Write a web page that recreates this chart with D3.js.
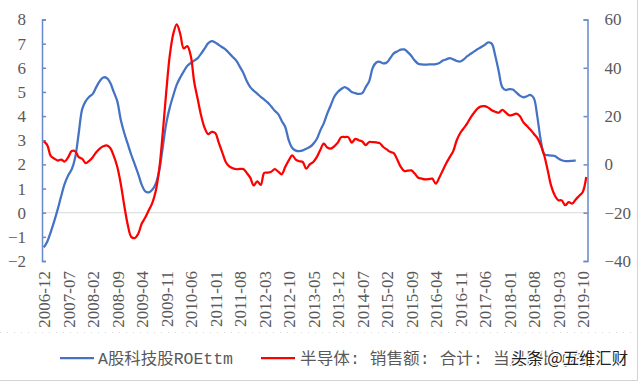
<!DOCTYPE html>
<html><head><meta charset="utf-8">
<script src="https://cdn.jsdelivr.net/npm/d3@7/dist/d3.min.js"></script>
<style>
html,body{margin:0;padding:0;background:#fff;}
svg{display:block;}
</style></head>
<body>
<svg id="chart" width="640" height="382"></svg>
<script>
// ---- data ----
const startMonth = "2006-12";
const tickLabels = ["2006-12","2007-07","2008-02","2008-09","2009-04","2009-11","2010-06","2011-01","2011-08","2012-03","2012-10","2013-05","2013-12","2014-07","2015-02","2015-09","2016-04","2016-11","2017-06","2018-01","2018-08","2019-03","2019-10"];
const leftTicks = [-2,-1,0,1,2,3,4,5,6,7,8];
const rightTicks = [-40,-20,0,20,40,60];
const seriesNames = ["A股科技股ROEttm","半导体: 销售额: 合计: 当月同比(右)"];
// A股科技股ROEttm (left axis), monthly from 2006-12
const roe = [-1.44,-1.2,-0.8,-0.35,0.15,0.7,1.2,1.55,1.8,2.3,3.3,4.3,4.62,4.8,4.92,5.2,5.45,5.6,5.58,5.38,
5.0,4.62,3.85,3.3,2.85,2.4,2.0,1.6,1.15,0.88,0.84,0.95,1.2,1.75,2.7,3.7,4.35,4.85,5.3,5.6,
5.85,6.08,6.2,6.3,6.4,6.6,6.8,7.02,7.1,7.05,6.95,6.85,6.75,6.6,6.45,6.3,6.05,5.8,5.45,5.2,
5.05,4.93,4.8,4.68,4.56,4.4,4.22,4.08,3.8,3.55,3.0,2.68,2.57,2.55,2.58,2.65,2.72,2.85,3.05,3.4,
3.7,4.1,4.45,4.8,5.0,5.12,5.2,5.12,5.0,4.95,4.92,4.95,5.2,5.45,6.0,6.22,6.25,6.18,6.22,6.4,
6.6,6.68,6.75,6.76,6.65,6.5,6.3,6.17,6.14,6.13,6.14,6.14,6.15,6.2,6.3,6.35,6.4,6.35,6.28,6.26,
6.35,6.48,6.58,6.68,6.78,6.86,6.95,7.05,7.0,6.5,5.85,5.2,5.08,5.12,5.1,4.98,4.85,4.78,4.82,4.88,
4.75,4.0,3.0,2.42,2.38,2.36,2.35,2.25,2.17,2.14,2.14,2.15,2.16];
// 半导体销售额当月同比 (right axis, %), monthly from 2006-12
const semi = [9.5,8.0,3.5,2.4,1.6,2.0,1.2,3.0,5.5,5.4,3.0,2.3,0.5,1.5,3.0,5.0,6.5,7.5,7.9,6.8,
3.5,-1.0,-8,-17,-25,-30,-30.5,-28.7,-24.5,-22,-19,-16,-11,-2,13,30,45,54,58,54,
48,49,45,34,27,20,15,12.5,13.5,13,9,5,1,-0.8,-1.6,-2.0,-1.9,-1.9,-3.5,-5.5,
-8.7,-7.0,-8.5,-3.5,-3.4,-3.0,-2.0,-3.0,-4.1,-1.0,1.7,3.7,2.0,1.3,1.0,-1.8,0.0,1.0,3.0,6.0,
8.6,7.0,6.5,7.5,9.0,11.3,11.3,11.3,9.0,10.6,10.0,9.5,8.0,9.3,9.2,9.1,8.8,7.2,6.2,5.2,
4.7,2.0,-1.0,-2.7,-2.6,-2.5,-3.8,-5.5,-5.9,-6.2,-6.1,-5.9,-8.0,-5.5,-2.5,0.5,3.0,5.5,10,13,
15,17,19.5,21.5,23.2,24,24.1,23.5,22.4,21.8,21.4,22.6,21.5,20.3,20.5,21.0,20.0,17.5,16.0,14.5,
12.7,11.0,8.0,3.7,-2.5,-9,-12.8,-14.8,-14.9,-16.9,-15.6,-16.2,-14.5,-13.0,-11.4,-5.2];

// month categories
const months = [];
{
  let [y, m] = startMonth.split("-").map(Number);
  for (let i = 0; i < semi.length; i++) {
    months.push(y + "-" + String(m).padStart(2, "0"));
    m++; if (m > 12) { m = 1; y++; }
  }
}

// ---- layout ----
const svg = d3.select("#chart");
const plotL = 42, plotR = 587.5, plotT = 19.5, plotB = 261;
const blue = "#4472C4", red = "#FF0000", axisCol = "#6688CC", textCol = "#595959";

const x = d3.scalePoint().domain(months).range([43.75, 43.75 + 3.5 * (months.length - 1)]);
const yL = d3.scaleLinear().domain([-2, 8]).range([plotB, plotT]);
const yR = d3.scaleLinear().domain([-40, 60]).range([plotB, plotT]);

// border lines of image
svg.append("line").attr("x1", 637.5).attr("x2", 637.5).attr("y1", 0).attr("y2", 381)
  .attr("stroke", "#d4d4d4").attr("stroke-width", 1);
svg.append("line").attr("x1", 0).attr("x2", 638).attr("y1", 380.5).attr("y2", 380.5)
  .attr("stroke", "#d4d4d4").attr("stroke-width", 1);
svg.append("line").attr("x1", 0).attr("x2", 638).attr("y1", 332.5).attr("y2", 332.5)
  .attr("stroke", "#d8d8d8").attr("stroke-width", 1).attr("stroke-dasharray", "1,6");

// zero line
svg.append("line").attr("x1", plotL).attr("x2", plotR)
  .attr("y1", yL(0)).attr("y2", yL(0))
  .attr("stroke", "#d9d9d9").attr("stroke-width", 1);

// left axis
const gL = svg.append("g").attr("transform", `translate(${plotL},0)`)
  .call(d3.axisLeft(yL).tickValues(leftTicks).tickFormat(d3.format("d"))
    .tickSizeInner(-4).tickSizeOuter(-4).tickPadding(16));
// right axis
const gR = svg.append("g").attr("transform", `translate(${plotR},0)`)
  .call(d3.axisRight(yR).tickValues(rightTicks).tickFormat(d3.format("d"))
    .tickSizeInner(-4).tickSizeOuter(-4).tickPadding(17));
[gL, gR].forEach(g => {
  g.select(".domain").attr("stroke", axisCol).attr("stroke-width", 1.5);
  g.selectAll(".tick line").attr("stroke", axisCol).attr("stroke-width", 1.5);
  g.selectAll("text").attr("fill", textCol)
    .attr("font-family", "'Liberation Serif','Times New Roman',serif")
    .attr("font-size", 17);
});

// x axis labels
const gX = svg.append("g").attr("transform", `translate(0,271)`)
  .call(d3.axisBottom(x).tickValues(tickLabels).tickSize(0).tickPadding(0));
gX.select(".domain").remove();
gX.selectAll("text")
  .attr("fill", textCol)
  .attr("font-family", "'Liberation Serif','Times New Roman',serif")
  .attr("font-size", 17)
  .attr("transform", "rotate(-90)")
  .attr("text-anchor", "end")
  .attr("x", 0).attr("y", 0).attr("dy", "0.35em");

// lines
const curve = d3.curveCatmullRom.alpha(0.5);
const lineL = d3.line().x((d, i) => x(months[i])).y(d => yL(d)).curve(curve);
const lineR = d3.line().x((d, i) => x(months[i])).y(d => yR(d)).curve(curve);
svg.append("path").datum(roe).attr("d", lineL)
  .attr("fill", "none").attr("stroke", blue).attr("stroke-width", 2.25)
  .attr("stroke-linejoin", "round");
svg.append("path").datum(semi).attr("d", lineR)
  .attr("fill", "none").attr("stroke", red).attr("stroke-width", 2.25)
  .attr("stroke-linejoin", "round");

// legend
const legY = 358;
const legend = [
  {name: seriesNames[0], color: blue, x1: 60, x2: 94, tx: 98, tl: 135},
  {name: seriesNames[1], color: red, x1: 261, x2: 295, tx: 300, tl: 296}
];
legend.forEach(l => {
  svg.append("line").attr("x1", l.x1).attr("x2", l.x2).attr("y1", legY).attr("y2", legY)
    .attr("stroke", l.color).attr("stroke-width", 2.25);
  svg.append("text").attr("x", l.tx).attr("y", legY).attr("dy", "0.36em")
    .attr("fill", textCol)
    .attr("font-family", "'Liberation Mono','Noto Sans CJK SC',monospace")
    .attr("font-size", 16)
    .attr("textLength", l.tl).attr("lengthAdjust", "spacingAndGlyphs")
    .text(l.name);
});

// watermark
svg.append("text").attr("x", 511).attr("y", legY).attr("dy", "0.36em")
  .attr("font-family", "'Noto Sans CJK SC',sans-serif").attr("font-size", 16)
  .attr("fill", "#222").attr("stroke", "#fff").attr("stroke-width", 2.5)
  .attr("paint-order", "stroke")
  .attr("textLength", 117).attr("lengthAdjust", "spacingAndGlyphs")
  .text("头条 @五维汇财");
</script>
</body></html>
